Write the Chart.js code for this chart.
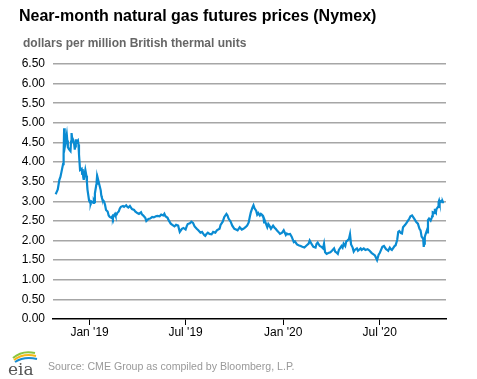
<!DOCTYPE html>
<html>
<head>
<meta charset="utf-8">
<script src="https://cdn.jsdelivr.net/npm/chart.js@4.4.0/dist/chart.umd.min.js"></script>
<style>
  html, body { margin: 0; padding: 0; background: #fff; }
  #wrap { position: relative; width: 477px; height: 379px; overflow: hidden; font-family: Arial, "Liberation Sans", sans-serif; }
  #chart { position: absolute; left: 0; top: 0; }
  .title { position: absolute; left: 19px; top: 7px; font-size: 16px; font-weight: bold; color: #000; white-space: nowrap; }
  .subtitle { position: absolute; left: 23px; top: 36px; font-size: 12px; font-weight: bold; color: #666; white-space: nowrap; }
  .source { position: absolute; left: 48px; top: 360px; font-size: 10.6px; color: #999; white-space: nowrap; }
  #logo { position: absolute; left: 6px; top: 347px; }
</style>
</head>
<body>
<div id="wrap">
  <canvas id="chart" width="477" height="379"></canvas>
  <div class="title">Near-month natural gas futures prices (Nymex)</div>
  <div class="subtitle">dollars per million British thermal units</div>
  <svg id="logo" width="34" height="30" viewBox="0 0 34 30">
    <path d="M7 11 Q16 3 29 6" stroke="#8cc63f" stroke-width="2" fill="none"/>
    <path d="M8 13 Q17 6 30 9" stroke="#f7b718" stroke-width="2" fill="none"/>
    <path d="M9 15 Q18 9 31 12" stroke="#1b8ccf" stroke-width="2" fill="none"/>
    <text x="2" y="28" font-family="DejaVu Serif, serif" font-size="17" fill="#555">eia</text>
  </svg>
  <div class="source">Source: CME Group as compiled by Bloomberg, L.P.</div>
</div>
<script>
// 日付と価格
const dates = [
  '2018-10-29','2018-10-31','2018-11-02','2018-11-05','2018-11-07','2018-11-09','2018-11-12','2018-11-13','2018-11-14','2018-11-15',
  '2018-11-16','2018-11-19','2018-11-20','2018-11-21','2018-11-23','2018-11-26','2018-11-27','2018-11-28','2018-11-29','2018-11-30',
  '2018-12-03','2018-12-04','2018-12-05','2018-12-06','2018-12-07','2018-12-10','2018-12-11','2018-12-12','2018-12-13','2018-12-14',
  '2018-12-17','2018-12-18','2018-12-19','2018-12-20','2018-12-21','2018-12-24','2018-12-26','2018-12-27','2018-12-28','2018-12-31',
  '2019-01-02','2019-01-03','2019-01-04','2019-01-07','2019-01-08','2019-01-09','2019-01-10','2019-01-11','2019-01-14','2019-01-15',
  '2019-01-16','2019-01-17','2019-01-18','2019-01-22','2019-01-23','2019-01-24','2019-01-25','2019-01-28','2019-01-30','2019-02-01',
  '2019-02-04','2019-02-06','2019-02-08','2019-02-11','2019-02-13','2019-02-14','2019-02-15','2019-02-18','2019-02-19','2019-02-21',
  '2019-02-22','2019-02-25','2019-02-27','2019-03-01','2019-03-05','2019-03-07','2019-03-11','2019-03-13','2019-03-15','2019-03-18',
  '2019-03-20','2019-03-22','2019-03-26','2019-03-28','2019-04-01','2019-04-04','2019-04-08','2019-04-10','2019-04-12','2019-04-16',
  '2019-04-18','2019-04-22','2019-04-25','2019-04-29','2019-05-02','2019-05-06','2019-05-09','2019-05-13','2019-05-16','2019-05-20',
  '2019-05-22','2019-05-24','2019-05-28','2019-05-30','2019-06-03','2019-06-06','2019-06-10','2019-06-13','2019-06-17','2019-06-20',
  '2019-06-24','2019-06-27','2019-07-01','2019-07-03','2019-07-05','2019-07-09','2019-07-12','2019-07-15','2019-07-18','2019-07-22',
  '2019-07-25','2019-07-29','2019-08-01','2019-08-05','2019-08-07','2019-08-09','2019-08-12','2019-08-15','2019-08-19','2019-08-22',
  '2019-08-26','2019-08-29','2019-09-03','2019-09-05','2019-09-09','2019-09-12','2019-09-16','2019-09-18','2019-09-20','2019-09-24',
  '2019-09-27','2019-10-01','2019-10-04','2019-10-07','2019-10-09','2019-10-11','2019-10-15','2019-10-18','2019-10-22','2019-10-25',
  '2019-10-28','2019-10-30','2019-11-01','2019-11-04','2019-11-06','2019-11-08','2019-11-11','2019-11-13','2019-11-15','2019-11-18',
  '2019-11-20','2019-11-22','2019-11-25','2019-11-26','2019-11-27','2019-12-02','2019-12-04','2019-12-06','2019-12-09','2019-12-11',
  '2019-12-13','2019-12-16','2019-12-18','2019-12-20','2019-12-23','2019-12-26','2019-12-30','2020-01-02','2020-01-06','2020-01-08',
  '2020-01-10','2020-01-14','2020-01-17','2020-01-21','2020-01-23','2020-01-27','2020-01-30','2020-02-03','2020-02-06','2020-02-10',
  '2020-02-13','2020-02-18','2020-02-20','2020-02-24','2020-02-27','2020-03-02','2020-03-04','2020-03-06','2020-03-10','2020-03-13',
  '2020-03-16','2020-03-18','2020-03-20','2020-03-23','2020-03-26','2020-03-30','2020-04-02','2020-04-06','2020-04-08','2020-04-10',
  '2020-04-13','2020-04-15','2020-04-17','2020-04-20','2020-04-22','2020-04-24','2020-04-27','2020-04-29','2020-05-01','2020-05-04',
  '2020-05-06','2020-05-08','2020-05-11','2020-05-13','2020-05-15','2020-05-19','2020-05-21','2020-05-26','2020-05-28','2020-06-01',
  '2020-06-04','2020-06-08','2020-06-10','2020-06-12','2020-06-16','2020-06-18','2020-06-22','2020-06-24','2020-06-26','2020-06-29',
  '2020-07-01','2020-07-06','2020-07-09','2020-07-13','2020-07-15','2020-07-17','2020-07-20','2020-07-22','2020-07-24','2020-07-27',
  '2020-07-29','2020-07-31','2020-08-03','2020-08-05','2020-08-07','2020-08-10','2020-08-12','2020-08-14','2020-08-18','2020-08-20',
  '2020-08-24','2020-08-26','2020-08-28','2020-08-31','2020-09-04','2020-09-08','2020-09-11','2020-09-14','2020-09-16','2020-09-18',
  '2020-09-21','2020-09-22','2020-09-23','2020-09-24','2020-09-25','2020-09-28','2020-09-29','2020-09-30','2020-10-02','2020-10-05',
  '2020-10-07','2020-10-08','2020-10-09','2020-10-12','2020-10-13','2020-10-14','2020-10-15','2020-10-16','2020-10-19','2020-10-20',
  '2020-10-21','2020-10-22','2020-10-23','2020-10-26','2020-10-27','2020-10-28','2020-10-29'
];
const prices = [
  3.18,3.24,3.30,3.55,3.62,3.75,3.95,4.20,4.86,4.60,
  4.45,4.70,4.55,4.38,4.33,4.28,4.52,4.74,4.62,4.60,
  4.45,4.32,4.40,4.58,4.50,4.55,4.45,4.20,4.00,3.80,
  3.83,3.70,3.82,3.62,3.55,3.80,3.65,3.48,3.30,3.02,
  2.96,2.95,3.00,2.97,2.96,3.01,2.98,3.20,3.45,3.62,
  3.55,3.45,3.50,3.28,3.15,3.10,3.05,3.00,2.92,2.78,
  2.74,2.64,2.60,2.58,2.62,2.58,2.63,2.68,2.64,2.66,
  2.70,2.74,2.82,2.86,2.88,2.86,2.90,2.86,2.84,2.88,
  2.84,2.80,2.78,2.74,2.70,2.68,2.72,2.66,2.64,2.58,
  2.50,2.55,2.56,2.60,2.59,2.62,2.63,2.62,2.66,2.64,
  2.68,2.62,2.58,2.52,2.43,2.40,2.36,2.40,2.38,2.22,
  2.30,2.32,2.28,2.36,2.42,2.44,2.48,2.45,2.36,2.30,
  2.26,2.20,2.22,2.14,2.12,2.16,2.20,2.17,2.16,2.22,
  2.20,2.26,2.30,2.40,2.48,2.60,2.68,2.64,2.56,2.48,
  2.38,2.30,2.28,2.26,2.30,2.34,2.28,2.30,2.34,2.38,
  2.46,2.60,2.72,2.84,2.90,2.82,2.76,2.66,2.70,2.64,
  2.68,2.66,2.58,2.46,2.52,2.34,2.42,2.38,2.30,2.34,
  2.38,2.32,2.30,2.26,2.22,2.17,2.20,2.26,2.14,2.18,
  2.16,2.17,2.10,1.96,1.98,1.90,1.88,1.86,1.84,1.82,
  1.86,1.92,2.00,1.90,1.84,1.82,1.92,1.95,1.86,1.84,
  1.80,1.92,1.70,1.66,1.68,1.70,1.74,1.80,1.72,1.70,
  1.66,1.76,1.80,1.86,1.82,1.92,1.86,1.98,2.00,2.04,
  2.16,1.90,1.82,1.72,1.76,1.80,1.74,1.80,1.76,1.80,
  1.76,1.78,1.76,1.74,1.68,1.66,1.62,1.56,1.50,1.64,
  1.68,1.84,1.86,1.78,1.76,1.74,1.82,1.78,1.76,1.82,
  1.86,1.88,2.02,2.22,2.24,2.19,2.18,2.34,2.40,2.44,
  2.52,2.56,2.62,2.64,2.56,2.47,2.43,2.30,2.26,2.10,
  2.04,1.84,1.92,2.09,2.14,2.26,2.21,2.52,2.56,2.51,
  2.58,2.62,2.72,2.70,2.81,2.74,2.72,2.80,2.86,2.98,
  3.02,2.96,2.99,3.02,2.98,2.99,2.96
];

// x軸の目盛り（2019年1月1日からの日数）
const tickDates = ['2019-01-01', '2019-07-01', '2020-01-01', '2020-07-01'];
const tickLabels = ["Jan '19", "Jul '19", "Jan '20", "Jul '20"];
const xMinDate = '2018-10-24';
const xMaxDate = '2020-11-03';

function dayOf(s) {
    const [y, m, d] = s.split('-').map(Number);
    return (Date.UTC(y, m - 1, d) - Date.UTC(2019, 0, 1)) / 86400000;
}

const points = dates.map((d, i) => ({ x: dayOf(d), y: prices[i] }));
const tickDays = tickDates.map(dayOf);

Chart.defaults.font.family = 'Arial, "Liberation Sans", sans-serif';
Chart.defaults.font.size = 12;
Chart.defaults.color = '#000';

new Chart(document.getElementById('chart'), {
    type: 'line',
    data: {
        datasets: [{
            data: points,
            borderColor: '#0a8bd2',
            borderWidth: 2.2,
            pointRadius: 0,
            tension: 0,
            fill: false
        }]
    },
    options: {
        responsive: false,
        animation: false,
        layout: { padding: { left: 0, right: 31, top: 64, bottom: 30 } },
        plugins: {
            legend: { display: false },
            tooltip: { enabled: false }
        },
        scales: {
            x: {
                type: 'linear',
                min: dayOf(xMinDate),
                max: dayOf(xMaxDate),
                afterBuildTicks: (scale) => {
                    scale.ticks = tickDays.map(v => ({ value: v }));
                },
                afterFit: (scale) => { scale.height = 30; },
                ticks: {
                    autoSkip: false,
                    maxRotation: 0,
                    padding: 0,
                    callback: (value) => tickLabels[tickDays.indexOf(value)] || ''
                },
                grid: {
                    drawOnChartArea: false,
                    drawTicks: true,
                    tickLength: 6,
                    color: '#000'
                },
                border: { display: true, color: '#000', width: 1.5 }
            },
            y: {
                min: 0,
                max: 6.5,
                afterFit: (scale) => { scale.width = 53; },
                ticks: {
                    stepSize: 0.5,
                    padding: 8,
                    callback: (v) => v.toFixed(2)
                },
                grid: {
                    drawTicks: false,
                    color: (ctx) => ctx.tick && ctx.tick.value === 0 ? 'rgba(0,0,0,0)' : '#a6a6a6',
                    lineWidth: 1.5
                },
                border: { display: false }
            }
        }
    }
});
</script>
</body>
</html>
